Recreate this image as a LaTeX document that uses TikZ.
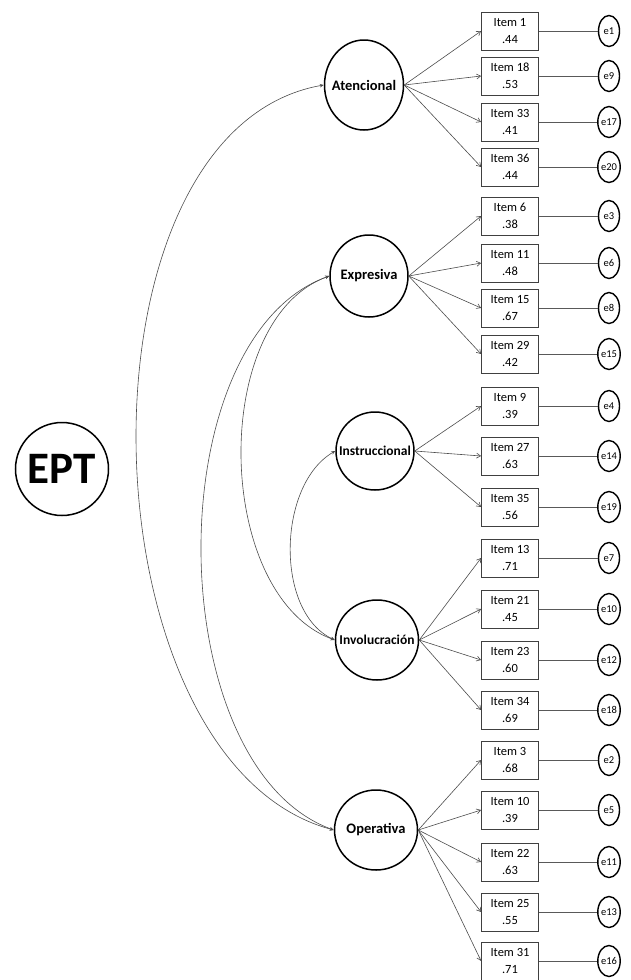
\documentclass[tikz,border=0pt]{standalone}
\usepackage{fontspec}
\setmainfont{Carlito}
\usetikzlibrary{shapes.geometric,arrows.meta}

\newcommand{\flab}[1]{\makebox[0pt]{#1}}

\tikzset{
  factor/.style={ellipse,draw,line width=1.5pt,minimum width=80pt,minimum height=82pt,
    inner sep=0pt,font=\fontsize{14.5}{16}\selectfont\bfseries},
  narrowfactor/.style={factor,font=\fontsize{13.5}{16}\selectfont\bfseries},
  itembox/.style={rectangle,draw=black!75,line width=0.8pt,minimum width=57pt,
    minimum height=38pt,inner sep=0pt,align=center,font=\fontsize{12.5}{16.6}\selectfont},
  err/.style={ellipse,draw,line width=1.4pt,minimum width=21pt,minimum height=31pt,
    inner sep=0pt,font=\fontsize{10.5}{12}\selectfont},
  load/.style={draw=black!70,line width=0.6pt,-{Straight Barb[length=4pt,width=5pt]}},
  resid/.style={draw=black!65,line width=1pt},
  cov/.style={draw=black!70,line width=0.6pt,
    {Stealth[length=4pt,width=3.5pt]}-{Stealth[length=4pt,width=3.5pt]}},
}

\begin{document}
\begin{tikzpicture}[x=1pt,y=-1pt]
  \useasboundingbox (0,0) rectangle (631,980);
  % General factor
  \node[circle,draw,line width=1.5pt,minimum size=93pt,inner sep=0pt,
    font=\fontsize{45}{45}\selectfont\bfseries] (ept) at (62,469) {EPT};
  % First-order factors
  \node[factor,minimum width=79pt,minimum height=90pt] (ate) at (364,85) {\flab{Atencional}};
  \node[factor,minimum width=78pt] (exp) at (369,276) {\flab{Expresiva}};
  \node[narrowfactor,minimum width=78pt,minimum height=78pt] (ins) at (375,451) {\flab{Instruccional}};
  \node[narrowfactor,minimum width=83pt,minimum height=80pt] (inv) at (377,640) {\flab{Involucración}};
  \node[factor,minimum width=83pt,minimum height=80pt] (ope) at (376,830) {\flab{Operativa}};
  % Items, loadings and errors
  \foreach \fac/\num/\val/\enode/\ypos in {
      ate/1/.44/e1/31, ate/18/.53/e9/76, ate/33/.41/e17/122, ate/36/.44/e20/167,
      exp/6/.38/e3/216, exp/11/.48/e6/263, exp/15/.67/e8/308, exp/29/.42/e15/354,
      ins/9/.39/e4/406, ins/27/.63/e14/456, ins/35/.56/e19/507,
      inv/13/.71/e7/558, inv/21/.45/e10/609, inv/23/.60/e12/660, inv/34/.69/e18/710,
      ope/3/.68/e2/760, ope/10/.39/e5/810, ope/22/.63/e11/862, ope/25/.55/e13/912,
      ope/31/.71/e16/961} {
    \node[itembox] (it\num) at (510,\ypos) {Item \num\\\val};
    \node[err] (\enode) at (609,\ypos) {\enode};
    \draw[load] (\fac.east) -- (it\num.west);
    \draw[resid] (it\num) -- (\enode);
  }
  % Covariances between factors
  \draw[cov] (ate.west) to[out=190,in=165,looseness=0.9] (ope.west);
  \draw[cov] (exp.west) to[out=200,in=160,looseness=0.85] (ope.west);
  \draw[cov] (exp.west) to[out=200,in=160,looseness=0.9] (inv.west);
  \draw[cov] (ins.west) to[out=210,in=155,looseness=0.9] (inv.west);
\end{tikzpicture}
\end{document}
